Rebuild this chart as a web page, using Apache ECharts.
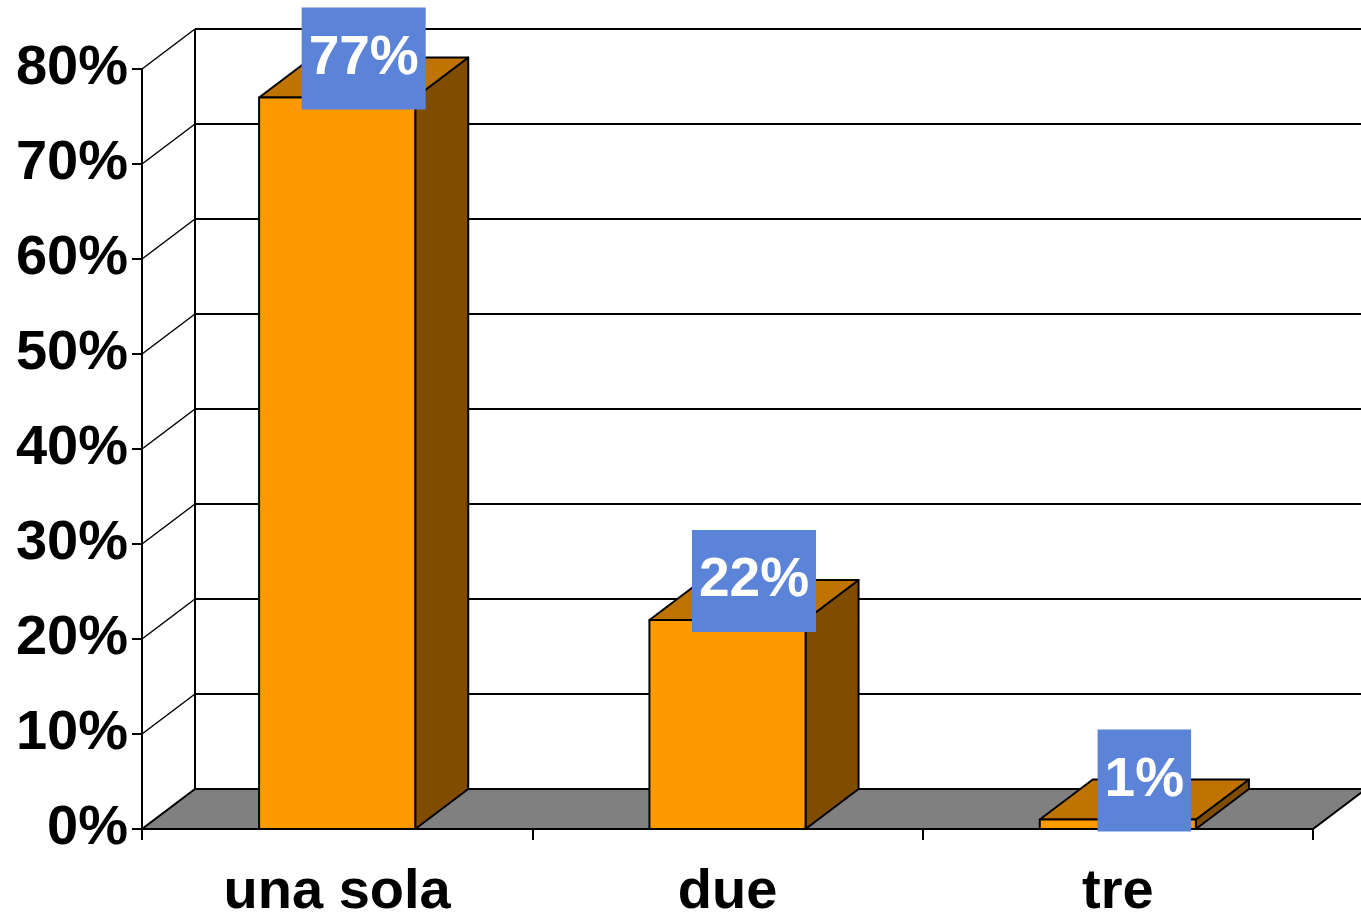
<!DOCTYPE html>
<html>
<head>
<meta charset="utf-8">
<script src="https://cdn.jsdelivr.net/npm/echarts@6/dist/echarts.min.js"></script>
<style>
  html, body { margin: 0; padding: 0; background: #fff; }
  #chart { width: 1361px; height: 914px; }
</style>
</head>
<body>
<div id="chart"></div>
<script>
const categories = ["una sola", "due", "tre"];
const values = [77, 22, 1];
const yTicks = [0, 10, 20, 30, 40, 50, 60, 70, 80];

// 3D depth offset in pixels
const DX = 53;
const DY = -40;
const FONT = "Liberation Sans, Arial, sans-serif";

const chart = echarts.init(document.getElementById("chart"));

// back wall gridlines + left wall diagonals
function renderWall(params, api) {
  const v = api.value(0);
  const p0 = api.coord([0, v]);
  const left = params.coordSys.x;
  const right = params.coordSys.x + params.coordSys.width;
  const y = p0[1];
  const line = { stroke: "#000", lineWidth: 2 };
  return {
    type: "group",
    children: [
      { type: "line", shape: { x1: left + DX, y1: y + DY, x2: right + DX + 10, y2: y + DY }, style: line },
      { type: "line", shape: { x1: left, y1: y, x2: left + DX, y2: y + DY }, style: { stroke: "#000", lineWidth: 1.5 } }
    ]
  };
}

// floor and back vertical edge
function renderFloor(params, api) {
  const cs = params.coordSys;
  const left = cs.x, right = cs.x + cs.width;
  const y0 = api.coord([0, 0])[1];
  const yTop = api.coord([0, yTicks[yTicks.length - 1]])[1];
  return {
    type: "group",
    children: [
      {
        type: "polygon",
        shape: { points: [[left, y0], [right, y0], [right + DX, y0 + DY], [left + DX, y0 + DY]] },
        style: { fill: "#808080", stroke: "#000", lineWidth: 2 }
      },
      { type: "line", shape: { x1: left + DX, y1: y0 + DY, x2: left + DX, y2: yTop + DY }, style: { stroke: "#000", lineWidth: 2 } }
    ]
  };
}

function renderBar(params, api) {
  const idx = api.value(0);
  const val = api.value(1);
  const top = api.coord([idx, val]);
  const base = api.coord([idx, 0]);
  const w = api.size([1, 0])[0] * 0.4;
  const x1 = top[0] - w / 2, x2 = top[0] + w / 2;
  const yT = top[1], yB = base[1];
  const edge = { stroke: "#000", lineWidth: 2, lineJoin: "round" };
  return {
    type: "group",
    children: [
      {
        type: "polygon",
        shape: { points: [[x2, yB], [x2 + DX, yB + DY], [x2 + DX, yT + DY], [x2, yT]] },
        style: Object.assign({ fill: "#7F4C00" }, edge)
      },
      {
        type: "polygon",
        shape: { points: [[x1, yT], [x2, yT], [x2 + DX, yT + DY], [x1 + DX, yT + DY]] },
        style: Object.assign({ fill: "#BF7300" }, edge)
      },
      {
        type: "rect",
        shape: { x: x1, y: yT, width: w, height: yB - yT },
        style: Object.assign({ fill: "#FF9900" }, edge)
      },
      {
        type: "text",
        z2: 100,
        style: {
          text: val + "%",
          x: top[0] + DX / 2,
          y: yT + DY + 1,
          align: "center",
          verticalAlign: "middle",
          fill: "#fff",
          font: "bold 55px " + FONT,
          lineHeight: 55,
          backgroundColor: "#5B84D8",
          padding: [24, 7, 23, 7]
        }
      }
    ]
  };
}

const option = {
  backgroundColor: "#fff",
  animation: false,
  grid: { left: 142, right: 48, top: 69, bottom: 85, containLabel: false, outerBoundsMode: "none" },
  xAxis: {
    type: "category",
    data: categories,
    axisLine: { lineStyle: { color: "#000", width: 2 } },
    axisTick: { show: true, length: 11, lineStyle: { color: "#000", width: 2 } },
    axisLabel: { color: "#000", fontSize: 56, fontWeight: "bold", fontFamily: FONT, margin: 36 },
    splitLine: { show: false }
  },
  yAxis: {
    type: "value",
    min: 0,
    max: 80,
    interval: 10,
    axisLine: { show: true, lineStyle: { color: "#000", width: 2 } },
    axisTick: { show: true, length: 10, lineStyle: { color: "#000", width: 2 } },
    axisLabel: { color: "#000", fontSize: 56, fontWeight: "bold", fontFamily: FONT, margin: 14, padding: [4, 0, 0, 0], formatter: "{value}%" },
    splitLine: { show: false }
  },
  series: [
    { type: "custom", renderItem: renderFloor, data: [[0, 0]], z: 1, clip: false, silent: true },
    { type: "custom", renderItem: renderWall, data: yTicks.slice(1).map(v => [v]), encode: { y: 0 }, z: 2, clip: false, silent: true },
    { type: "custom", renderItem: renderBar, data: values.map((v, i) => [i, v]), z: 3, clip: false }
  ]
};

chart.setOption(option);
</script>
</body>
</html>
